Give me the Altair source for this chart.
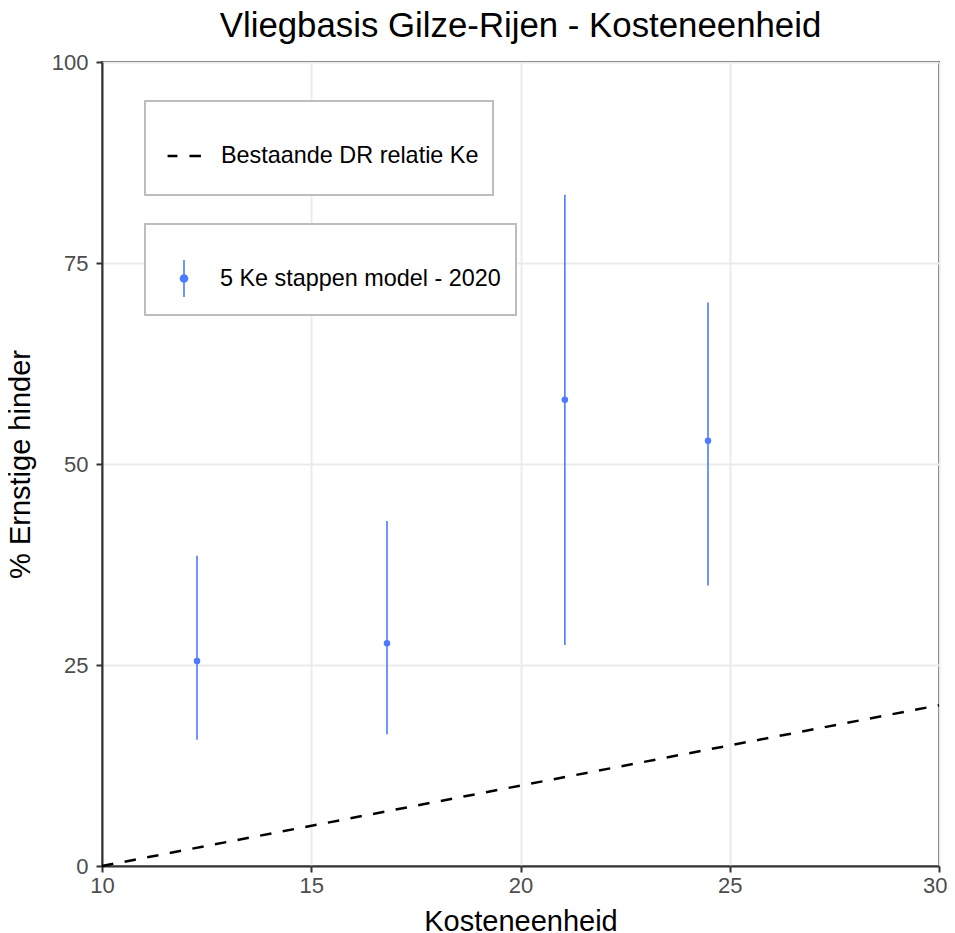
import altair as alt
import pandas as pd

# data
ke = [12.27, 16.81, 21.06, 24.48]
pct = [25.5, 27.7, 58.0, 52.9]
lower = [15.7, 16.4, 27.5, 34.9]
upper = [38.6, 42.9, 83.5, 70.1]
model_name = "5 Ke stappen model - 2020"

dr_x = [10, 30]
dr_y = [0, 20]
dr_name = "Bestaande DR relatie Ke"

x_ticks = [10, 15, 20, 25, 30]
y_ticks = [0, 25, 50, 75, 100]

pts = pd.DataFrame({"ke": ke, "pct": pct, "lo": lower, "hi": upper, "serie": [model_name] * len(ke)})
dr = pd.DataFrame({"ke": dr_x, "pct": dr_y, "serie": [dr_name] * len(dr_x)})

BLUE = "#4c7bff"
FONT = "Liberation Sans"

DASH_SYMBOL = "M0,-0.79M0,0.79M-0.72,0L-0.30,0M0.21,0L0.72,0"
ERR_SYMBOL = ("M0,-0.79L0,0.79M-0.15,0A0.15,0.15,0,1,1,0.15,0"
              "A0.15,0.15,0,1,1,-0.15,0Z")

xs = alt.Scale(domain=[10, 30], nice=False, zero=False)
ys = alt.Scale(domain=[0, 100], nice=False)

xax = alt.Axis(
    values=x_ticks, title="Kosteneenheid",
    labelAlign={"condition": {"test": "datum.value >= 30", "value": "right"}, "value": "center"},
    labelOffset={"condition": {"test": "datum.value >= 30", "value": 8}, "value": 0},
)
yax = alt.Axis(values=y_ticks, title="% Ernstige hinder")

legend_common = dict(
    title=" ", titleFontSize=10, titlePadding=5.5,
    orient="none", legendX=43,
    padding=14.5, strokeColor="#bdbdbd", fillColor="white",
    symbolSize=2209, symbolOffset=0,
    labelFontSize=23.4, labelFont=FONT, labelColor="black", labelOffset=11.5,
    labelLimit=500,
)

line = alt.Chart(dr).mark_line(color="black", strokeWidth=2.5).encode(
    x=alt.X("ke:Q", scale=xs, axis=xax),
    y=alt.Y("pct:Q", scale=ys, axis=yax),
    strokeDash=alt.StrokeDash(
        "serie:N",
        scale=alt.Scale(domain=[dr_name], range=[[11.5, 11.5]]),
        legend=alt.Legend(
            legendY=39,
            symbolType=DASH_SYMBOL, symbolStrokeWidth=2.5,
            symbolStrokeColor="black", symbolDash=[100, 0],
            **legend_common,
        ),
    ),
)

rules = alt.Chart(pts).mark_rule(strokeWidth=1.6, color=BLUE).encode(
    x=alt.X("ke:Q", scale=xs),
    y=alt.Y("lo:Q", scale=ys),
    y2="hi:Q",
)

points = alt.Chart(pts).mark_circle(size=42, opacity=1).encode(
    x=alt.X("ke:Q", scale=xs),
    y=alt.Y("pct:Q", scale=ys),
    color=alt.Color(
        "serie:N",
        scale=alt.Scale(domain=[model_name], range=[BLUE]),
        legend=alt.Legend(
            legendY=162,
            symbolType=ERR_SYMBOL, symbolStrokeWidth=1.6, symbolStrokeColor=BLUE,
            symbolFillColor=BLUE, symbolOpacity=1,
            **legend_common,
        ),
    ),
)

chart = (
    alt.layer(line, rules, points)
    .resolve_legend(color="independent", strokeDash="independent")
    .properties(
        width=837,
        height=804,
        title=alt.Title("Vliegbasis Gilze-Rijen - Kosteneenheid", fontSize=34.8, font=FONT,
                        fontWeight="normal", color="black", anchor="middle", offset=6),
        autosize=alt.AutoSizeParams(type="none"),
        padding={"left": 94, "top": 54, "right": 8, "bottom": 70},
    )
    .configure_view(stroke="#333333", strokeWidth=2)
    .configure_legend(strokeWidth=2)
    .configure_axis(
        domainColor="#333333", domainWidth=2, tickColor="#333333", tickWidth=2, tickSize=6,
        gridColor="#ebebeb", gridWidth=2, labelColor="#4d4d4d", labelFontSize=22, labelFont=FONT,
        titleFont=FONT, titleFontSize=29, titleFontWeight="normal", titleColor="black",
    )
    .configure_axisX(titlePadding=11, labelPadding=3, labelFlush=False)
    .configure_axisY(titlePadding=16, labelPadding=8, labelFlush=False)
)

chart.save("out.html", embed_options={"renderer": "svg", "actions": False})
